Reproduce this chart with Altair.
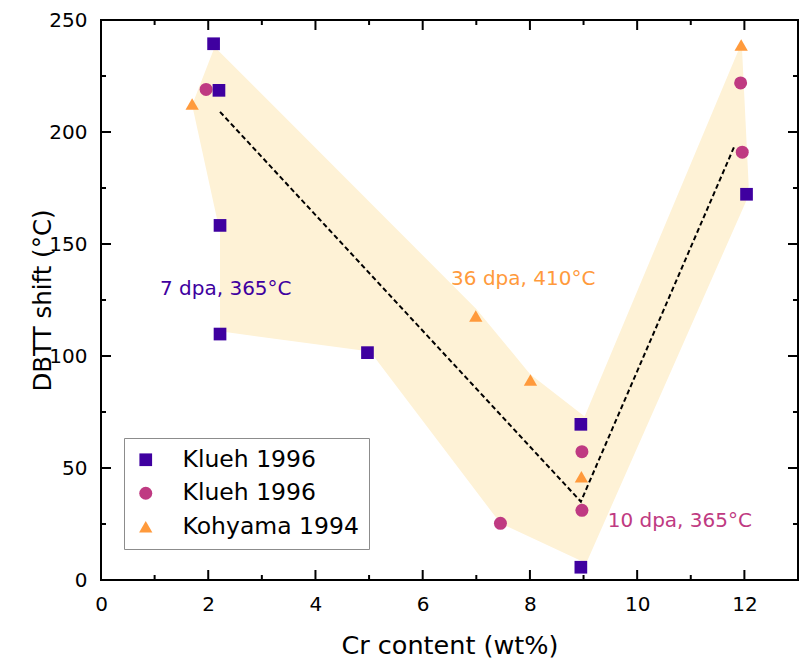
import altair as alt
import pandas as pd

FONT = "DejaVu Sans"
W, H = 697, 560          # plot area size (px)
MAJOR, MINOR = 10, 5     # inward tick lengths (px)
X_MAX, Y_MAX = 13, 250

# ---- series definitions ----
series_keys = ["Klueh 1996 (a)", "Klueh 1996 (b)", "Kohyama 1994"]
series_shapes = ["square", "circle", "triangle-up"]
series_colors = ["#3F00A0", "#BF3A82", "#FF9A3C"]
series_sizes = [161, 177, 246]

# Klueh 1996 (squares)
sq_x = [2.10, 2.20, 2.22, 2.22, 4.97, 8.95, 8.95, 12.04]
sq_y = [239.4, 218.6, 158.3, 109.8, 101.5, 69.5, 5.7, 172.2]
# Klueh 1996 (circles)
ci_x = [1.96, 7.45, 8.97, 8.97, 11.93, 11.96]
ci_y = [219.0, 25.3, 57.3, 31.1, 221.9, 191.0]
# Kohyama 1994 (triangles)
tr_x = [1.70, 6.99, 8.01, 8.96, 11.94]
tr_y = [212.5, 117.9, 89.3, 46.1, 238.8]

# shaded band (polygon outline)
poly_x = [2.12, 7.00, 8.00, 9.02, 11.95, 12.08, 12.03, 9.05, 7.45, 5.02, 2.22, 2.22, 1.70]
poly_y = [238.0, 121.0, 92.0, 73.0, 240.0, 176.0, 169.0, 7.5, 25.3, 102.0, 111.0, 155.0, 212.0]

# dashed trend line
dash_x = [2.22, 8.95, 11.82]
dash_y = [209.0, 35.0, 194.0]

# annotations
ann_text = ["7 dpa, 365°C", "36 dpa, 410°C", "10 dpa, 365°C"]
ann_x = [1.10, 6.53, 9.45]
ann_y = [127.2, 131.7, 23.8]
ann_color = ["#3F00A0", "#FF9A3C", "#BF3A82"]

x_major = [0, 2, 4, 6, 8, 10, 12]
x_minor = [1, 3, 5, 7, 9, 11]
y_major = [0, 50, 100, 150, 200, 250]
y_minor = [25, 75, 125, 175, 225]

# ---- tables ----
pts = pd.concat([
    pd.DataFrame({"x": ci_x, "y": ci_y, "s": series_keys[1]}),
    pd.DataFrame({"x": tr_x, "y": tr_y, "s": series_keys[2]}),
    pd.DataFrame({"x": sq_x, "y": sq_y, "s": series_keys[0]}),
], ignore_index=True)
poly = pd.DataFrame({"x": poly_x, "y": poly_y, "i": list(range(len(poly_x)))})
dash = pd.DataFrame({"x": dash_x, "y": dash_y})
ann = pd.DataFrame({"x": ann_x, "y": ann_y, "t": ann_text, "c": ann_color})

xs = alt.Scale(domain=[0, X_MAX], nice=False, zero=False)
ys = alt.Scale(domain=[0, Y_MAX], nice=False, zero=False)

ax_bottom = alt.Axis(
    orient="bottom", values=x_major, domain=False, grid=False, ticks=False,
    labelFont=FONT, labelFontSize=20, labelColor="black", labelPadding=14,
    labelFlush=False, labelOverlap=False,
    title="Cr content (wt%)", titleFont=FONT, titleFontSize=25.5,
    titleFontWeight="normal", titleColor="black",
    titleX=W / 2, titleY=73, titleBaseline="alphabetic",
)
ax_left = alt.Axis(
    orient="left", values=y_major, domain=False, grid=False, ticks=False,
    labelFont=FONT, labelFontSize=20, labelColor="black", labelPadding=14,
    labelFlush=False, labelOverlap=False,
    title="DBTT shift (°C)", titleFont=FONT, titleFontSize=24.5,
    titleFontWeight="normal", titleColor="black",
    titleX=-51, titleY=H / 2, titleBaseline="alphabetic", titleAngle=270,
)

X = alt.X("x:Q", scale=xs, axis=ax_bottom)
Y = alt.Y("y:Q", scale=ys, axis=ax_left)


# inward ticks on all four sides, positioned through the scales (data space)
def xticks(vals, length):
    dy = length * Y_MAX / H
    base = alt.Chart(pd.DataFrame({"x": vals})).mark_rule(color="black", strokeWidth=2)
    return [
        base.encode(x=X, y=alt.datum(0, scale=ys, axis=ax_left), y2=alt.datum(dy)),
        base.encode(x=X, y=alt.datum(Y_MAX, scale=ys, axis=ax_left), y2=alt.datum(Y_MAX - dy)),
    ]


def yticks(vals, length):
    dx = length * X_MAX / W
    base = alt.Chart(pd.DataFrame({"y": vals})).mark_rule(color="black", strokeWidth=2)
    return [
        base.encode(y=Y, x=alt.datum(0, scale=xs, axis=ax_bottom), x2=alt.datum(dx)),
        base.encode(y=Y, x=alt.datum(X_MAX, scale=xs, axis=ax_bottom), x2=alt.datum(X_MAX - dx)),
    ]


tick_layers = (xticks(x_major, MAJOR) + xticks(x_minor, MINOR)
               + yticks(y_major, MAJOR) + yticks(y_minor, MINOR))

band = alt.Chart(poly).mark_line(
    interpolate="linear-closed", fill="#FEF2D6", strokeWidth=0, strokeOpacity=0
).encode(x=X, y=Y, order=alt.Order("i:Q"))

trend = alt.Chart(dash).mark_line(
    color="black", strokeWidth=2, strokeDash=[5, 3]
).encode(x=X, y=Y)

points = alt.Chart(pts).mark_point(filled=True, opacity=1).encode(
    x=X,
    y=Y,
    color=alt.Color(
        "s:N",
        scale=alt.Scale(domain=series_keys, range=series_colors),
        legend=alt.Legend(
            title=None, orient="none", legendX=23, legendY=418,
            labelExpr="split(datum.label, ' (')[0]",
            labelFont=FONT, labelFontSize=23.5, labelColor="black", labelLimit=400,
            symbolSize=110, symbolStrokeWidth=0, symbolOffset=0,
            labelOffset=25, rowPadding=8.5, padding=10,
            strokeColor="#8C8C8C", fillColor="white",
        ),
    ),
    shape=alt.Shape("s:N", scale=alt.Scale(domain=series_keys, range=series_shapes)),
    size=alt.Size("s:N", scale=alt.Scale(domain=series_keys, range=series_sizes), legend=None),
)

labels = alt.Chart(ann).mark_text(
    align="left", baseline="alphabetic", font=FONT, fontSize=20
).encode(
    x=X, y=Y, text="t:N", color=alt.Color("c:N", scale=None),
)

chart = alt.layer(*tick_layers, band, trend, points, labels).properties(
    width=W, height=H,
    autosize=alt.AutoSizeParams(type="none"),
    padding={"left": 101, "top": 20, "right": 3, "bottom": 86},
    background="white",
).configure_view(stroke="black", strokeWidth=2)

chart.save("out.html", embed_options={"renderer": "svg", "actions": False})
